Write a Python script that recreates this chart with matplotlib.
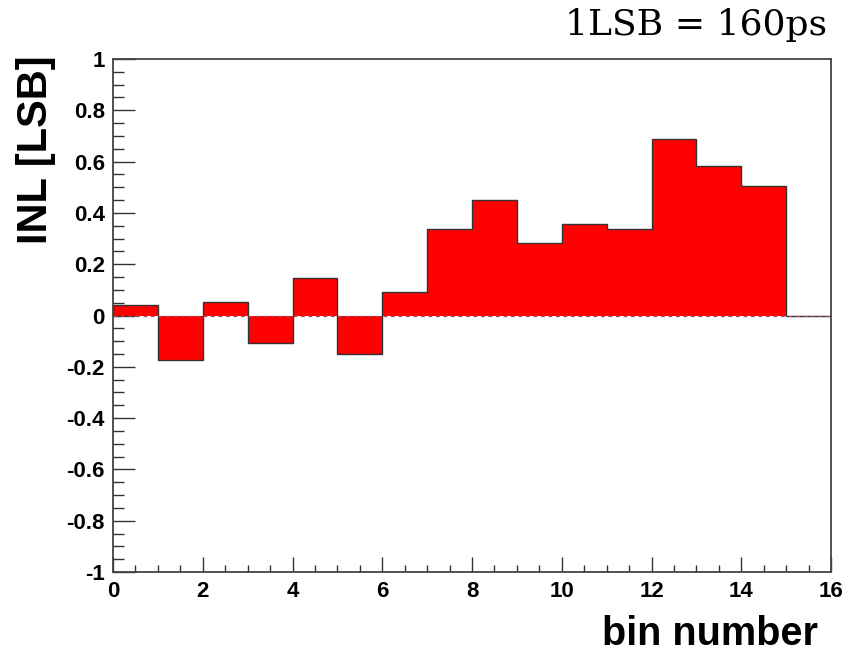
import numpy as np
import matplotlib.pyplot as plt
from matplotlib.ticker import MultipleLocator

# INL per bin (LSB)
bin_edges = np.arange(0, 17)
inl = [0.042, -0.175, 0.051, -0.108, 0.147, -0.149, 0.090, 0.339,
       0.452, 0.283, 0.356, 0.336, 0.689, 0.584, 0.504, 0.0]

x_ticks = [0, 2, 4, 6, 8, 10, 12, 14, 16]
y_ticks = [-1, -0.8, -0.6, -0.4, -0.2, 0, 0.2, 0.4, 0.6, 0.8, 1]
y_labels = ['-1', '-0.8', '-0.6', '-0.4', '-0.2', '0',
            '0.2', '0.4', '0.6', '0.8', '1']

fig = plt.figure(figsize=(8.57, 6.56), dpi=100)
ax = fig.add_axes([113 / 857, 1 - 572 / 656, 718 / 857, 513 / 656])

ax.stairs(inl, bin_edges, baseline=0, fill=True, color='#ff0000')
ax.stairs(inl, bin_edges, baseline=0, fill=False, color='#333333', lw=1.0)
ax.axhline(0, color='#a05060', lw=0.9, ls=(0, (3, 3)))

ax.set_xlim(0, 16)
ax.set_ylim(-1, 1)
ax.set_xticks(x_ticks)
ax.set_xticklabels([str(v) for v in x_ticks])
ax.set_yticks(y_ticks)
ax.set_yticklabels(y_labels)
ax.xaxis.set_minor_locator(MultipleLocator(0.5))
ax.yaxis.set_minor_locator(MultipleLocator(0.05))

ax.tick_params(which='both', direction='in', top=False, right=False,
               color='#333333', width=1.0)
ax.tick_params(axis='x', which='major', length=11, pad=6.5)
ax.tick_params(axis='x', which='minor', length=5)
ax.tick_params(axis='y', which='major', length=16, pad=6)
ax.tick_params(axis='y', which='minor', length=8)
for lab in ax.get_xticklabels() + ax.get_yticklabels():
    lab.set_fontfamily('Liberation Sans')
    lab.set_fontweight('bold')
    lab.set_fontsize(16)

for s in ax.spines.values():
    s.set_color('#444444')
    s.set_linewidth(1.3)

fig.text(36 / 857, 1 - 150 / 656, 'INL [LSB]', rotation=90, ha='center',
         va='center', fontsize=30, fontweight='bold', family='Liberation Sans')
fig.text(818 / 857, 1 - 645 / 656, 'bin number', ha='right', va='baseline',
         fontsize=28.5, fontweight='bold', family='Liberation Sans')
fig.text(827 / 857, 1 - 35 / 656, '1LSB = 160ps', ha='right', va='baseline',
         fontsize=26, family='DejaVu Serif')

fig.savefig('out.png', dpi=100)
